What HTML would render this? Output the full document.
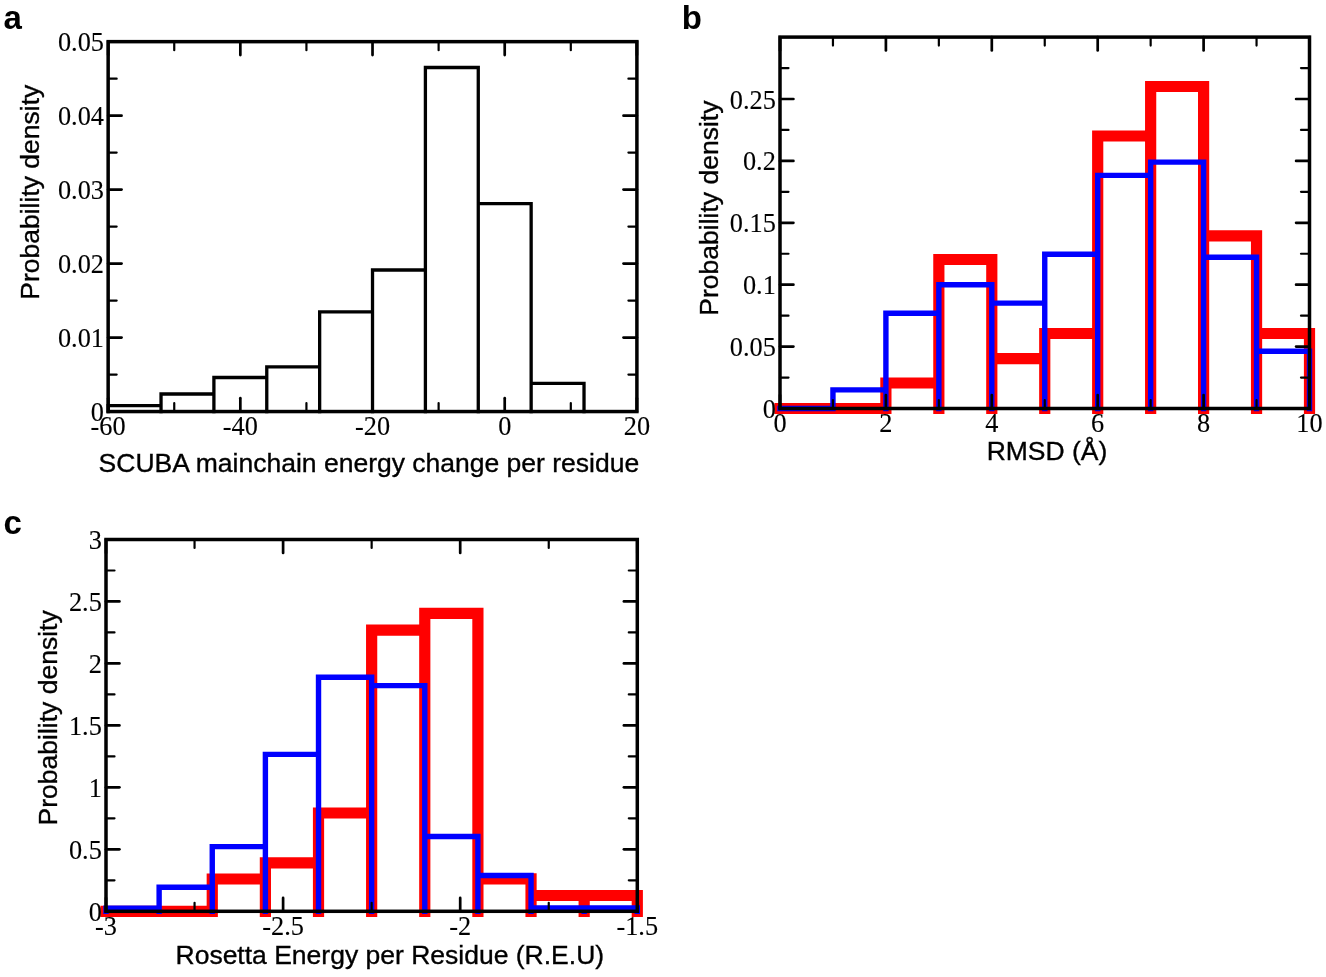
<!DOCTYPE html>
<html><head><meta charset="utf-8"><style>
html,body{margin:0;padding:0;background:#fff;width:1326px;height:977px;overflow:hidden}
svg{display:block;will-change:transform}
</style></head><body>
<svg width="1326" height="977" viewBox="0 0 1326 977">
<rect width="1326" height="977" fill="#fff"/>
<path d="M108.15 411.55L108.15 405.55L161.03 405.55L161.03 411.55M161.03 411.55L161.03 394.00L213.90 394.00L213.90 411.55M213.90 411.55L213.90 377.50L266.77 377.50L266.77 411.55M266.77 411.55L266.77 366.80L319.65 366.80L319.65 411.55M319.65 411.55L319.65 311.80L372.52 311.80L372.52 411.55M372.52 411.55L372.52 270.00L425.40 270.00L425.40 411.55M425.40 411.55L425.40 67.50L478.27 67.50L478.27 411.55M478.27 411.55L478.27 203.70L531.15 203.70L531.15 411.55M531.15 411.55L531.15 383.45L584.02 383.45L584.02 411.55" fill="none" stroke="#000" stroke-width="3.3" stroke-linecap="square" stroke-linejoin="miter"/>
<line x1="108.15" y1="411.55" x2="108.15" y2="398.15" stroke="#000" stroke-width="2.7" stroke-linecap="round"/>
<line x1="108.15" y1="41.65" x2="108.15" y2="55.05" stroke="#000" stroke-width="2.7" stroke-linecap="round"/>
<line x1="240.34" y1="411.55" x2="240.34" y2="398.15" stroke="#000" stroke-width="2.7" stroke-linecap="round"/>
<line x1="240.34" y1="41.65" x2="240.34" y2="55.05" stroke="#000" stroke-width="2.7" stroke-linecap="round"/>
<line x1="372.52" y1="411.55" x2="372.52" y2="398.15" stroke="#000" stroke-width="2.7" stroke-linecap="round"/>
<line x1="372.52" y1="41.65" x2="372.52" y2="55.05" stroke="#000" stroke-width="2.7" stroke-linecap="round"/>
<line x1="504.71" y1="411.55" x2="504.71" y2="398.15" stroke="#000" stroke-width="2.7" stroke-linecap="round"/>
<line x1="504.71" y1="41.65" x2="504.71" y2="55.05" stroke="#000" stroke-width="2.7" stroke-linecap="round"/>
<line x1="636.90" y1="411.55" x2="636.90" y2="398.15" stroke="#000" stroke-width="2.7" stroke-linecap="round"/>
<line x1="636.90" y1="41.65" x2="636.90" y2="55.05" stroke="#000" stroke-width="2.7" stroke-linecap="round"/>
<line x1="174.24" y1="411.55" x2="174.24" y2="403.05" stroke="#000" stroke-width="2.2" stroke-linecap="round"/>
<line x1="174.24" y1="41.65" x2="174.24" y2="50.15" stroke="#000" stroke-width="2.2" stroke-linecap="round"/>
<line x1="306.43" y1="411.55" x2="306.43" y2="403.05" stroke="#000" stroke-width="2.2" stroke-linecap="round"/>
<line x1="306.43" y1="41.65" x2="306.43" y2="50.15" stroke="#000" stroke-width="2.2" stroke-linecap="round"/>
<line x1="438.62" y1="411.55" x2="438.62" y2="403.05" stroke="#000" stroke-width="2.2" stroke-linecap="round"/>
<line x1="438.62" y1="41.65" x2="438.62" y2="50.15" stroke="#000" stroke-width="2.2" stroke-linecap="round"/>
<line x1="570.81" y1="411.55" x2="570.81" y2="403.05" stroke="#000" stroke-width="2.2" stroke-linecap="round"/>
<line x1="570.81" y1="41.65" x2="570.81" y2="50.15" stroke="#000" stroke-width="2.2" stroke-linecap="round"/>
<line x1="108.15" y1="411.55" x2="121.55" y2="411.55" stroke="#000" stroke-width="2.7" stroke-linecap="round"/>
<line x1="636.90" y1="411.55" x2="623.50" y2="411.55" stroke="#000" stroke-width="2.7" stroke-linecap="round"/>
<line x1="108.15" y1="337.57" x2="121.55" y2="337.57" stroke="#000" stroke-width="2.7" stroke-linecap="round"/>
<line x1="636.90" y1="337.57" x2="623.50" y2="337.57" stroke="#000" stroke-width="2.7" stroke-linecap="round"/>
<line x1="108.15" y1="263.59" x2="121.55" y2="263.59" stroke="#000" stroke-width="2.7" stroke-linecap="round"/>
<line x1="636.90" y1="263.59" x2="623.50" y2="263.59" stroke="#000" stroke-width="2.7" stroke-linecap="round"/>
<line x1="108.15" y1="189.61" x2="121.55" y2="189.61" stroke="#000" stroke-width="2.7" stroke-linecap="round"/>
<line x1="636.90" y1="189.61" x2="623.50" y2="189.61" stroke="#000" stroke-width="2.7" stroke-linecap="round"/>
<line x1="108.15" y1="115.63" x2="121.55" y2="115.63" stroke="#000" stroke-width="2.7" stroke-linecap="round"/>
<line x1="636.90" y1="115.63" x2="623.50" y2="115.63" stroke="#000" stroke-width="2.7" stroke-linecap="round"/>
<line x1="108.15" y1="41.65" x2="121.55" y2="41.65" stroke="#000" stroke-width="2.7" stroke-linecap="round"/>
<line x1="636.90" y1="41.65" x2="623.50" y2="41.65" stroke="#000" stroke-width="2.7" stroke-linecap="round"/>
<line x1="108.15" y1="374.56" x2="116.65" y2="374.56" stroke="#000" stroke-width="2.2" stroke-linecap="round"/>
<line x1="636.90" y1="374.56" x2="628.40" y2="374.56" stroke="#000" stroke-width="2.2" stroke-linecap="round"/>
<line x1="108.15" y1="300.58" x2="116.65" y2="300.58" stroke="#000" stroke-width="2.2" stroke-linecap="round"/>
<line x1="636.90" y1="300.58" x2="628.40" y2="300.58" stroke="#000" stroke-width="2.2" stroke-linecap="round"/>
<line x1="108.15" y1="226.60" x2="116.65" y2="226.60" stroke="#000" stroke-width="2.2" stroke-linecap="round"/>
<line x1="636.90" y1="226.60" x2="628.40" y2="226.60" stroke="#000" stroke-width="2.2" stroke-linecap="round"/>
<line x1="108.15" y1="152.62" x2="116.65" y2="152.62" stroke="#000" stroke-width="2.2" stroke-linecap="round"/>
<line x1="636.90" y1="152.62" x2="628.40" y2="152.62" stroke="#000" stroke-width="2.2" stroke-linecap="round"/>
<line x1="108.15" y1="78.64" x2="116.65" y2="78.64" stroke="#000" stroke-width="2.2" stroke-linecap="round"/>
<line x1="636.90" y1="78.64" x2="628.40" y2="78.64" stroke="#000" stroke-width="2.2" stroke-linecap="round"/>
<rect x="108.15" y="41.65" width="528.75" height="369.90" fill="none" stroke="#000" stroke-width="3.5"/>
<text x="108.15" y="435.20" font-family='"Liberation Serif", serif' font-size="26.3" font-weight="normal" text-anchor="middle" stroke="#000" stroke-width="0.12">-60</text>
<text x="240.34" y="435.20" font-family='"Liberation Serif", serif' font-size="26.3" font-weight="normal" text-anchor="middle" stroke="#000" stroke-width="0.12">-40</text>
<text x="372.52" y="435.20" font-family='"Liberation Serif", serif' font-size="26.3" font-weight="normal" text-anchor="middle" stroke="#000" stroke-width="0.12">-20</text>
<text x="504.71" y="435.20" font-family='"Liberation Serif", serif' font-size="26.3" font-weight="normal" text-anchor="middle" stroke="#000" stroke-width="0.12">0</text>
<text x="636.90" y="435.20" font-family='"Liberation Serif", serif' font-size="26.3" font-weight="normal" text-anchor="middle" stroke="#000" stroke-width="0.12">20</text>
<text x="103.95" y="421.05" font-family='"Liberation Serif", serif' font-size="26.3" font-weight="normal" text-anchor="end" stroke="#000" stroke-width="0.12">0</text>
<text x="103.95" y="347.07" font-family='"Liberation Serif", serif' font-size="26.3" font-weight="normal" text-anchor="end" stroke="#000" stroke-width="0.12">0.01</text>
<text x="103.95" y="273.09" font-family='"Liberation Serif", serif' font-size="26.3" font-weight="normal" text-anchor="end" stroke="#000" stroke-width="0.12">0.02</text>
<text x="103.95" y="199.11" font-family='"Liberation Serif", serif' font-size="26.3" font-weight="normal" text-anchor="end" stroke="#000" stroke-width="0.12">0.03</text>
<text x="103.95" y="125.13" font-family='"Liberation Serif", serif' font-size="26.3" font-weight="normal" text-anchor="end" stroke="#000" stroke-width="0.12">0.04</text>
<text x="103.95" y="51.15" font-family='"Liberation Serif", serif' font-size="26.3" font-weight="normal" text-anchor="end" stroke="#000" stroke-width="0.12">0.05</text>
<path d="M780.00 408.50L780.00 408.50L832.95 408.50L832.95 408.50M832.95 408.50L832.95 408.50L885.90 408.50L885.90 408.50M885.90 408.50L885.90 383.00L938.85 383.00L938.85 408.50M938.85 408.50L938.85 259.50L991.80 259.50L991.80 408.50M991.80 408.50L991.80 358.70L1044.75 358.70L1044.75 408.50M1044.75 408.50L1044.75 333.50L1097.70 333.50L1097.70 408.50M1097.70 408.50L1097.70 136.00L1150.65 136.00L1150.65 408.50M1150.65 408.50L1150.65 86.50L1203.60 86.50L1203.60 408.50M1203.60 408.50L1203.60 235.80L1256.55 235.80L1256.55 408.50M1256.55 408.50L1256.55 333.50L1309.50 333.50L1309.50 408.50" fill="none" stroke="#f00" stroke-width="11.2" stroke-linecap="square" stroke-linejoin="miter"/>
<path d="M780.00 408.50L780.00 408.50L832.95 408.50L832.95 408.50M832.95 408.50L832.95 389.90L885.90 389.90L885.90 408.50M885.90 408.50L885.90 313.30L938.85 313.30L938.85 408.50M938.85 408.50L938.85 284.80L991.80 284.80L991.80 408.50M991.80 408.50L991.80 303.10L1044.75 303.10L1044.75 408.50M1044.75 408.50L1044.75 254.20L1097.70 254.20L1097.70 408.50M1097.70 408.50L1097.70 175.40L1150.65 175.40L1150.65 408.50M1150.65 408.50L1150.65 162.10L1203.60 162.10L1203.60 408.50M1203.60 408.50L1203.60 257.20L1256.55 257.20L1256.55 408.50M1256.55 408.50L1256.55 351.20L1309.50 351.20L1309.50 408.50" fill="none" stroke="#00f" stroke-width="5.4" stroke-linecap="square" stroke-linejoin="miter"/>
<line x1="780.00" y1="408.50" x2="780.00" y2="395.10" stroke="#000" stroke-width="2.7" stroke-linecap="round"/>
<line x1="780.00" y1="37.10" x2="780.00" y2="50.50" stroke="#000" stroke-width="2.7" stroke-linecap="round"/>
<line x1="885.90" y1="408.50" x2="885.90" y2="395.10" stroke="#000" stroke-width="2.7" stroke-linecap="round"/>
<line x1="885.90" y1="37.10" x2="885.90" y2="50.50" stroke="#000" stroke-width="2.7" stroke-linecap="round"/>
<line x1="991.80" y1="408.50" x2="991.80" y2="395.10" stroke="#000" stroke-width="2.7" stroke-linecap="round"/>
<line x1="991.80" y1="37.10" x2="991.80" y2="50.50" stroke="#000" stroke-width="2.7" stroke-linecap="round"/>
<line x1="1097.70" y1="408.50" x2="1097.70" y2="395.10" stroke="#000" stroke-width="2.7" stroke-linecap="round"/>
<line x1="1097.70" y1="37.10" x2="1097.70" y2="50.50" stroke="#000" stroke-width="2.7" stroke-linecap="round"/>
<line x1="1203.60" y1="408.50" x2="1203.60" y2="395.10" stroke="#000" stroke-width="2.7" stroke-linecap="round"/>
<line x1="1203.60" y1="37.10" x2="1203.60" y2="50.50" stroke="#000" stroke-width="2.7" stroke-linecap="round"/>
<line x1="1309.50" y1="408.50" x2="1309.50" y2="395.10" stroke="#000" stroke-width="2.7" stroke-linecap="round"/>
<line x1="1309.50" y1="37.10" x2="1309.50" y2="50.50" stroke="#000" stroke-width="2.7" stroke-linecap="round"/>
<line x1="832.95" y1="408.50" x2="832.95" y2="400.00" stroke="#000" stroke-width="2.2" stroke-linecap="round"/>
<line x1="832.95" y1="37.10" x2="832.95" y2="45.60" stroke="#000" stroke-width="2.2" stroke-linecap="round"/>
<line x1="938.85" y1="408.50" x2="938.85" y2="400.00" stroke="#000" stroke-width="2.2" stroke-linecap="round"/>
<line x1="938.85" y1="37.10" x2="938.85" y2="45.60" stroke="#000" stroke-width="2.2" stroke-linecap="round"/>
<line x1="1044.75" y1="408.50" x2="1044.75" y2="400.00" stroke="#000" stroke-width="2.2" stroke-linecap="round"/>
<line x1="1044.75" y1="37.10" x2="1044.75" y2="45.60" stroke="#000" stroke-width="2.2" stroke-linecap="round"/>
<line x1="1150.65" y1="408.50" x2="1150.65" y2="400.00" stroke="#000" stroke-width="2.2" stroke-linecap="round"/>
<line x1="1150.65" y1="37.10" x2="1150.65" y2="45.60" stroke="#000" stroke-width="2.2" stroke-linecap="round"/>
<line x1="1256.55" y1="408.50" x2="1256.55" y2="400.00" stroke="#000" stroke-width="2.2" stroke-linecap="round"/>
<line x1="1256.55" y1="37.10" x2="1256.55" y2="45.60" stroke="#000" stroke-width="2.2" stroke-linecap="round"/>
<line x1="780.00" y1="408.50" x2="793.40" y2="408.50" stroke="#000" stroke-width="2.7" stroke-linecap="round"/>
<line x1="1309.50" y1="408.50" x2="1296.10" y2="408.50" stroke="#000" stroke-width="2.7" stroke-linecap="round"/>
<line x1="780.00" y1="346.60" x2="793.40" y2="346.60" stroke="#000" stroke-width="2.7" stroke-linecap="round"/>
<line x1="1309.50" y1="346.60" x2="1296.10" y2="346.60" stroke="#000" stroke-width="2.7" stroke-linecap="round"/>
<line x1="780.00" y1="284.70" x2="793.40" y2="284.70" stroke="#000" stroke-width="2.7" stroke-linecap="round"/>
<line x1="1309.50" y1="284.70" x2="1296.10" y2="284.70" stroke="#000" stroke-width="2.7" stroke-linecap="round"/>
<line x1="780.00" y1="222.80" x2="793.40" y2="222.80" stroke="#000" stroke-width="2.7" stroke-linecap="round"/>
<line x1="1309.50" y1="222.80" x2="1296.10" y2="222.80" stroke="#000" stroke-width="2.7" stroke-linecap="round"/>
<line x1="780.00" y1="160.90" x2="793.40" y2="160.90" stroke="#000" stroke-width="2.7" stroke-linecap="round"/>
<line x1="1309.50" y1="160.90" x2="1296.10" y2="160.90" stroke="#000" stroke-width="2.7" stroke-linecap="round"/>
<line x1="780.00" y1="99.00" x2="793.40" y2="99.00" stroke="#000" stroke-width="2.7" stroke-linecap="round"/>
<line x1="1309.50" y1="99.00" x2="1296.10" y2="99.00" stroke="#000" stroke-width="2.7" stroke-linecap="round"/>
<line x1="780.00" y1="377.55" x2="788.50" y2="377.55" stroke="#000" stroke-width="2.2" stroke-linecap="round"/>
<line x1="1309.50" y1="377.55" x2="1301.00" y2="377.55" stroke="#000" stroke-width="2.2" stroke-linecap="round"/>
<line x1="780.00" y1="315.65" x2="788.50" y2="315.65" stroke="#000" stroke-width="2.2" stroke-linecap="round"/>
<line x1="1309.50" y1="315.65" x2="1301.00" y2="315.65" stroke="#000" stroke-width="2.2" stroke-linecap="round"/>
<line x1="780.00" y1="253.75" x2="788.50" y2="253.75" stroke="#000" stroke-width="2.2" stroke-linecap="round"/>
<line x1="1309.50" y1="253.75" x2="1301.00" y2="253.75" stroke="#000" stroke-width="2.2" stroke-linecap="round"/>
<line x1="780.00" y1="191.85" x2="788.50" y2="191.85" stroke="#000" stroke-width="2.2" stroke-linecap="round"/>
<line x1="1309.50" y1="191.85" x2="1301.00" y2="191.85" stroke="#000" stroke-width="2.2" stroke-linecap="round"/>
<line x1="780.00" y1="129.95" x2="788.50" y2="129.95" stroke="#000" stroke-width="2.2" stroke-linecap="round"/>
<line x1="1309.50" y1="129.95" x2="1301.00" y2="129.95" stroke="#000" stroke-width="2.2" stroke-linecap="round"/>
<line x1="780.00" y1="68.05" x2="788.50" y2="68.05" stroke="#000" stroke-width="2.2" stroke-linecap="round"/>
<line x1="1309.50" y1="68.05" x2="1301.00" y2="68.05" stroke="#000" stroke-width="2.2" stroke-linecap="round"/>
<rect x="780.00" y="37.10" width="529.50" height="371.40" fill="none" stroke="#000" stroke-width="3.5"/>
<text x="780.00" y="432.20" font-family='"Liberation Serif", serif' font-size="26.3" font-weight="normal" text-anchor="middle" stroke="#000" stroke-width="0.12">0</text>
<text x="885.90" y="432.20" font-family='"Liberation Serif", serif' font-size="26.3" font-weight="normal" text-anchor="middle" stroke="#000" stroke-width="0.12">2</text>
<text x="991.80" y="432.20" font-family='"Liberation Serif", serif' font-size="26.3" font-weight="normal" text-anchor="middle" stroke="#000" stroke-width="0.12">4</text>
<text x="1097.70" y="432.20" font-family='"Liberation Serif", serif' font-size="26.3" font-weight="normal" text-anchor="middle" stroke="#000" stroke-width="0.12">6</text>
<text x="1203.60" y="432.20" font-family='"Liberation Serif", serif' font-size="26.3" font-weight="normal" text-anchor="middle" stroke="#000" stroke-width="0.12">8</text>
<text x="1309.50" y="432.20" font-family='"Liberation Serif", serif' font-size="26.3" font-weight="normal" text-anchor="middle" stroke="#000" stroke-width="0.12">10</text>
<text x="775.80" y="418.00" font-family='"Liberation Serif", serif' font-size="26.3" font-weight="normal" text-anchor="end" stroke="#000" stroke-width="0.12">0</text>
<text x="775.80" y="356.10" font-family='"Liberation Serif", serif' font-size="26.3" font-weight="normal" text-anchor="end" stroke="#000" stroke-width="0.12">0.05</text>
<text x="775.80" y="294.20" font-family='"Liberation Serif", serif' font-size="26.3" font-weight="normal" text-anchor="end" stroke="#000" stroke-width="0.12">0.1</text>
<text x="775.80" y="232.30" font-family='"Liberation Serif", serif' font-size="26.3" font-weight="normal" text-anchor="end" stroke="#000" stroke-width="0.12">0.15</text>
<text x="775.80" y="170.40" font-family='"Liberation Serif", serif' font-size="26.3" font-weight="normal" text-anchor="end" stroke="#000" stroke-width="0.12">0.2</text>
<text x="775.80" y="108.50" font-family='"Liberation Serif", serif' font-size="26.3" font-weight="normal" text-anchor="end" stroke="#000" stroke-width="0.12">0.25</text>
<path d="M106.00 911.30L106.00 911.30L159.13 911.30L159.13 911.30M159.13 911.30L159.13 911.30L212.26 911.30L212.26 911.30M212.26 911.30L212.26 879.00L265.39 879.00L265.39 911.30M265.39 911.30L265.39 862.90L318.52 862.90L318.52 911.30M318.52 911.30L318.52 813.00L371.65 813.00L371.65 911.30M371.65 911.30L371.65 630.20L424.78 630.20L424.78 911.30M424.78 911.30L424.78 613.40L477.91 613.40L477.91 911.30M477.91 911.30L477.91 878.80L531.04 878.80L531.04 911.30M531.04 911.30L531.04 895.50L584.17 895.50L584.17 911.30M584.17 911.30L584.17 895.50L637.30 895.50L637.30 911.30" fill="none" stroke="#f00" stroke-width="11.2" stroke-linecap="square" stroke-linejoin="miter"/>
<path d="M106.00 911.30L106.00 908.20L159.13 908.20L159.13 911.30M159.13 911.30L159.13 887.30L212.26 887.30L212.26 911.30M212.26 911.30L212.26 846.60L265.39 846.60L265.39 911.30M265.39 911.30L265.39 754.40L318.52 754.40L318.52 911.30M318.52 911.30L318.52 677.30L371.65 677.30L371.65 911.30M371.65 911.30L371.65 685.60L424.78 685.60L424.78 911.30M424.78 911.30L424.78 836.50L477.91 836.50L477.91 911.30M477.91 911.30L477.91 875.50L531.04 875.50L531.04 911.30M531.04 911.30L531.04 908.00L584.17 908.00L584.17 911.30M584.17 911.30L584.17 908.00L637.30 908.00L637.30 911.30" fill="none" stroke="#00f" stroke-width="5.4" stroke-linecap="square" stroke-linejoin="miter"/>
<line x1="106.00" y1="911.30" x2="106.00" y2="897.90" stroke="#000" stroke-width="2.7" stroke-linecap="round"/>
<line x1="106.00" y1="539.50" x2="106.00" y2="552.90" stroke="#000" stroke-width="2.7" stroke-linecap="round"/>
<line x1="283.10" y1="911.30" x2="283.10" y2="897.90" stroke="#000" stroke-width="2.7" stroke-linecap="round"/>
<line x1="283.10" y1="539.50" x2="283.10" y2="552.90" stroke="#000" stroke-width="2.7" stroke-linecap="round"/>
<line x1="460.20" y1="911.30" x2="460.20" y2="897.90" stroke="#000" stroke-width="2.7" stroke-linecap="round"/>
<line x1="460.20" y1="539.50" x2="460.20" y2="552.90" stroke="#000" stroke-width="2.7" stroke-linecap="round"/>
<line x1="637.30" y1="911.30" x2="637.30" y2="897.90" stroke="#000" stroke-width="2.7" stroke-linecap="round"/>
<line x1="637.30" y1="539.50" x2="637.30" y2="552.90" stroke="#000" stroke-width="2.7" stroke-linecap="round"/>
<line x1="194.55" y1="911.30" x2="194.55" y2="902.80" stroke="#000" stroke-width="2.2" stroke-linecap="round"/>
<line x1="194.55" y1="539.50" x2="194.55" y2="548.00" stroke="#000" stroke-width="2.2" stroke-linecap="round"/>
<line x1="371.65" y1="911.30" x2="371.65" y2="902.80" stroke="#000" stroke-width="2.2" stroke-linecap="round"/>
<line x1="371.65" y1="539.50" x2="371.65" y2="548.00" stroke="#000" stroke-width="2.2" stroke-linecap="round"/>
<line x1="548.75" y1="911.30" x2="548.75" y2="902.80" stroke="#000" stroke-width="2.2" stroke-linecap="round"/>
<line x1="548.75" y1="539.50" x2="548.75" y2="548.00" stroke="#000" stroke-width="2.2" stroke-linecap="round"/>
<line x1="106.00" y1="911.30" x2="119.40" y2="911.30" stroke="#000" stroke-width="2.7" stroke-linecap="round"/>
<line x1="637.30" y1="911.30" x2="623.90" y2="911.30" stroke="#000" stroke-width="2.7" stroke-linecap="round"/>
<line x1="106.00" y1="849.33" x2="119.40" y2="849.33" stroke="#000" stroke-width="2.7" stroke-linecap="round"/>
<line x1="637.30" y1="849.33" x2="623.90" y2="849.33" stroke="#000" stroke-width="2.7" stroke-linecap="round"/>
<line x1="106.00" y1="787.37" x2="119.40" y2="787.37" stroke="#000" stroke-width="2.7" stroke-linecap="round"/>
<line x1="637.30" y1="787.37" x2="623.90" y2="787.37" stroke="#000" stroke-width="2.7" stroke-linecap="round"/>
<line x1="106.00" y1="725.40" x2="119.40" y2="725.40" stroke="#000" stroke-width="2.7" stroke-linecap="round"/>
<line x1="637.30" y1="725.40" x2="623.90" y2="725.40" stroke="#000" stroke-width="2.7" stroke-linecap="round"/>
<line x1="106.00" y1="663.43" x2="119.40" y2="663.43" stroke="#000" stroke-width="2.7" stroke-linecap="round"/>
<line x1="637.30" y1="663.43" x2="623.90" y2="663.43" stroke="#000" stroke-width="2.7" stroke-linecap="round"/>
<line x1="106.00" y1="601.47" x2="119.40" y2="601.47" stroke="#000" stroke-width="2.7" stroke-linecap="round"/>
<line x1="637.30" y1="601.47" x2="623.90" y2="601.47" stroke="#000" stroke-width="2.7" stroke-linecap="round"/>
<line x1="106.00" y1="539.50" x2="119.40" y2="539.50" stroke="#000" stroke-width="2.7" stroke-linecap="round"/>
<line x1="637.30" y1="539.50" x2="623.90" y2="539.50" stroke="#000" stroke-width="2.7" stroke-linecap="round"/>
<line x1="106.00" y1="880.32" x2="114.50" y2="880.32" stroke="#000" stroke-width="2.2" stroke-linecap="round"/>
<line x1="637.30" y1="880.32" x2="628.80" y2="880.32" stroke="#000" stroke-width="2.2" stroke-linecap="round"/>
<line x1="106.00" y1="818.35" x2="114.50" y2="818.35" stroke="#000" stroke-width="2.2" stroke-linecap="round"/>
<line x1="637.30" y1="818.35" x2="628.80" y2="818.35" stroke="#000" stroke-width="2.2" stroke-linecap="round"/>
<line x1="106.00" y1="756.38" x2="114.50" y2="756.38" stroke="#000" stroke-width="2.2" stroke-linecap="round"/>
<line x1="637.30" y1="756.38" x2="628.80" y2="756.38" stroke="#000" stroke-width="2.2" stroke-linecap="round"/>
<line x1="106.00" y1="694.42" x2="114.50" y2="694.42" stroke="#000" stroke-width="2.2" stroke-linecap="round"/>
<line x1="637.30" y1="694.42" x2="628.80" y2="694.42" stroke="#000" stroke-width="2.2" stroke-linecap="round"/>
<line x1="106.00" y1="632.45" x2="114.50" y2="632.45" stroke="#000" stroke-width="2.2" stroke-linecap="round"/>
<line x1="637.30" y1="632.45" x2="628.80" y2="632.45" stroke="#000" stroke-width="2.2" stroke-linecap="round"/>
<line x1="106.00" y1="570.48" x2="114.50" y2="570.48" stroke="#000" stroke-width="2.2" stroke-linecap="round"/>
<line x1="637.30" y1="570.48" x2="628.80" y2="570.48" stroke="#000" stroke-width="2.2" stroke-linecap="round"/>
<rect x="106.00" y="539.50" width="531.30" height="371.80" fill="none" stroke="#000" stroke-width="3.5"/>
<text x="106.00" y="935.20" font-family='"Liberation Serif", serif' font-size="26.3" font-weight="normal" text-anchor="middle" stroke="#000" stroke-width="0.12">-3</text>
<text x="283.10" y="935.20" font-family='"Liberation Serif", serif' font-size="26.3" font-weight="normal" text-anchor="middle" stroke="#000" stroke-width="0.12">-2.5</text>
<text x="460.20" y="935.20" font-family='"Liberation Serif", serif' font-size="26.3" font-weight="normal" text-anchor="middle" stroke="#000" stroke-width="0.12">-2</text>
<text x="637.30" y="935.20" font-family='"Liberation Serif", serif' font-size="26.3" font-weight="normal" text-anchor="middle" stroke="#000" stroke-width="0.12">-1.5</text>
<text x="101.80" y="920.80" font-family='"Liberation Serif", serif' font-size="26.3" font-weight="normal" text-anchor="end" stroke="#000" stroke-width="0.12">0</text>
<text x="101.80" y="858.83" font-family='"Liberation Serif", serif' font-size="26.3" font-weight="normal" text-anchor="end" stroke="#000" stroke-width="0.12">0.5</text>
<text x="101.80" y="796.87" font-family='"Liberation Serif", serif' font-size="26.3" font-weight="normal" text-anchor="end" stroke="#000" stroke-width="0.12">1</text>
<text x="101.80" y="734.90" font-family='"Liberation Serif", serif' font-size="26.3" font-weight="normal" text-anchor="end" stroke="#000" stroke-width="0.12">1.5</text>
<text x="101.80" y="672.93" font-family='"Liberation Serif", serif' font-size="26.3" font-weight="normal" text-anchor="end" stroke="#000" stroke-width="0.12">2</text>
<text x="101.80" y="610.97" font-family='"Liberation Serif", serif' font-size="26.3" font-weight="normal" text-anchor="end" stroke="#000" stroke-width="0.12">2.5</text>
<text x="101.80" y="549.00" font-family='"Liberation Serif", serif' font-size="26.3" font-weight="normal" text-anchor="end" stroke="#000" stroke-width="0.12">3</text>
<text x="368.90" y="471.80" font-family='"Liberation Sans", sans-serif' font-size="26.5" font-weight="normal" text-anchor="middle" stroke="#000" stroke-width="0.35">SCUBA mainchain energy change per residue</text>
<text x="1047.00" y="460.40" font-family='"Liberation Sans", sans-serif' font-size="26.5" font-weight="normal" text-anchor="middle" stroke="#000" stroke-width="0.35">RMSD (Å)</text>
<text x="389.80" y="964.30" font-family='"Liberation Sans", sans-serif' font-size="26.5" font-weight="normal" text-anchor="middle" stroke="#000" stroke-width="0.35">Rosetta Energy per Residue (R.E.U)</text>
<text x="39.50" y="192.20" font-family='"Liberation Sans", sans-serif' font-size="26.5" font-weight="normal" text-anchor="middle" stroke="#000" stroke-width="0.35" transform="rotate(-90 39.50 192.20)">Probability density</text>
<text x="717.70" y="208.10" font-family='"Liberation Sans", sans-serif' font-size="26.5" font-weight="normal" text-anchor="middle" stroke="#000" stroke-width="0.35" transform="rotate(-90 717.70 208.10)">Probability density</text>
<text x="56.70" y="717.90" font-family='"Liberation Sans", sans-serif' font-size="26.5" font-weight="normal" text-anchor="middle" stroke="#000" stroke-width="0.35" transform="rotate(-90 56.70 717.90)">Probability density</text>
<text x="3.50" y="28.80" font-family='"Liberation Sans", sans-serif' font-size="33" font-weight="bold" text-anchor="start">a</text>
<text x="681.80" y="28.50" font-family='"Liberation Sans", sans-serif' font-size="33" font-weight="bold" text-anchor="start">b</text>
<text x="3.50" y="534.30" font-family='"Liberation Sans", sans-serif' font-size="33" font-weight="bold" text-anchor="start">c</text>
</svg>
</body></html>
